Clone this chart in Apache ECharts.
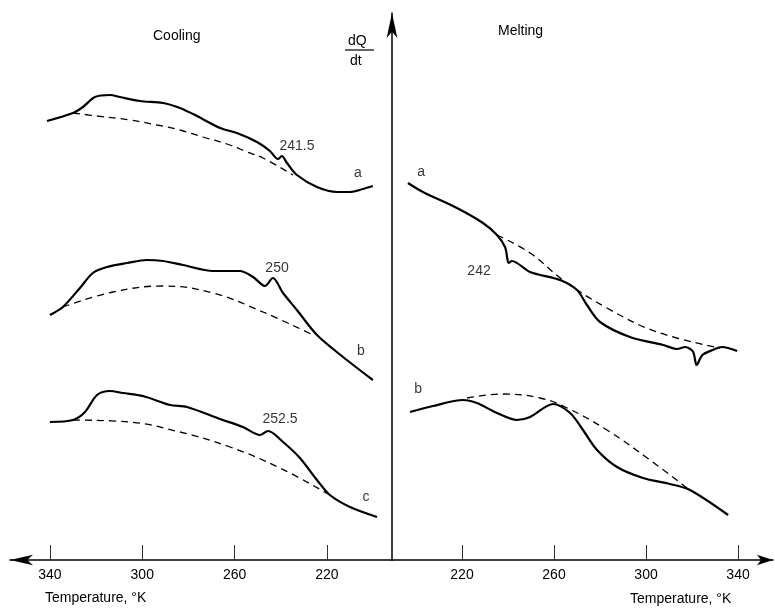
<!DOCTYPE html>
<html>
<head>
<meta charset="utf-8">
<script src="https://cdn.jsdelivr.net/npm/echarts@6/dist/echarts.min.js"></script>
<style>html,body{margin:0;padding:0;background:#fff}#c{width:775px;height:609px}</style>
</head>
<body>
<div id="c"></div>
<script>
// Tick labels (temperature, K)
var tickValues = [220, 260, 300, 340];

// Cooling curves [T (K), dQ/dt (arb.)]
var coolA = [[341.3,87.8],[330.0,89.4],[325.7,90.6],[320.5,92.6],[314.0,93.0],[309.7,92.6],[301.0,91.8],[291.0,91.4],[283.7,90.4],[276.3,88.8],[266.3,86.4],[259.0,85.4],[250.3,83.6],[244.7,81.8],[241.2,80.2],[239.5,80.8],[237.3,79.4],[233.0,77.0],[224.3,74.6],[215.6,73.6],[210.0,73.6],[204.4,74.2],[200.1,74.8]];
var coolABase = [[330.0,89.4],[319.6,88.8],[305.3,88.0],[293.6,87.0],[283.7,86.0],[273.7,84.6],[262.0,83.0],[254.6,81.6],[247.7,80.4],[234.7,77.0]];
var coolB = [[340.0,49.0],[334.4,50.6],[327.0,54.4],[321.4,57.4],[315.3,58.6],[306.6,59.4],[298.0,60.0],[291.0,59.8],[282.4,59.0],[269.4,57.8],[257.7,57.8],[252.0,56.6],[246.8,54.8],[243.4,56.4],[239.0,53.4],[233.0,50.0],[224.3,45.0],[213.0,40.6],[200.1,36.0]];
var coolBBase = [[334.4,50.6],[312.7,53.6],[291.0,54.8],[269.4,53.4],[247.7,49.6],[226.0,45.0]];
var coolC = [[340.0,27.6],[330.0,28.0],[324.8,29.6],[319.6,33.0],[314.0,33.8],[308.4,33.4],[299.7,32.8],[288.0,31.0],[280.6,30.6],[266.3,28.2],[256.4,26.6],[249.0,25.0],[245.5,25.8],[239.0,23.6],[231.7,20.4],[224.3,16.0],[218.7,13.0],[210.0,10.6],[198.3,8.6]];
var coolCBase = [[330.0,28.0],[305.3,27.6],[283.7,25.6],[262.0,22.6],[240.3,18.4],[218.7,13.0]];

// Melting curves
var meltA = [[196.5,75.4],[203.0,73.6],[217.8,70.4],[229.1,67.4],[235.2,65.0],[238.7,62.6],[239.8,60.0],[240.2,59.4],[241.7,59.8],[249.6,57.6],[262.6,56.0],[270.0,54.0],[274.3,51.0],[280.0,47.6],[293.0,44.6],[307.4,43.0],[313.5,42.2],[317.0,42.6],[320.4,41.7],[322.0,39.0],[324.5,41.0],[329.0,42.0],[333.0,42.6],[339.6,41.8]];
var meltABase = [[235.2,65.0],[249.6,61.4],[263.9,56.0],[283.0,50.4],[304.8,45.6],[332.2,42.4]];
var meltB = [[197.4,29.6],[207.4,30.8],[220.4,32.0],[226.5,31.4],[235.2,29.4],[243.9,28.0],[249.6,28.6],[259.6,31.2],[267.0,29.4],[272.6,26.0],[278.7,22.0],[287.4,18.6],[298.7,16.4],[310.4,15.2],[319.1,14.0],[335.7,9.0]];
var meltBBase = [[222.2,32.4],[237.8,33.2],[253.9,32.4],[265.7,30.4],[283.0,26.0],[301.7,20.0],[317.8,14.4]];

// Annotations
var coolLabels = [['241.5',[233.0,82.8]],['a',[206.6,77.4]],['250',[241.6,58.4]],['b',[205.3,41.8]],['252.5',[240.3,28.2]],['c',[203.1,12.6]]];
var meltLabels = [['a',[202.2,77.6]],['242',[227.4,57.8]],['b',[200.9,34.2]]];

var FONT = 'Liberation Sans';
var INK = '#000';

function solid(data, idx) {
  return {type:'line', xAxisIndex:idx, yAxisIndex:idx, data:data, smooth:0.3, symbol:'none',
    lineStyle:{color:INK, width:2.2}, z:3};
}
function dashed(data, idx) {
  return {type:'line', xAxisIndex:idx, yAxisIndex:idx, data:data, smooth:0.4, symbol:'none',
    lineStyle:{color:INK, width:1.3, type:[7,5]}, z:2};
}
function labels(list, idx) {
  return {type:'scatter', xAxisIndex:idx, yAxisIndex:idx, symbolSize:0,
    data:list.map(function(l){return {name:l[0], value:l[1]};}),
    label:{show:true, position:'inside', formatter:'{b}', color:INK, fontSize:14, fontFamily:FONT}, z:4};
}

var yMax = 109.4;
var chart = echarts.init(document.getElementById('c'), null, {renderer:'canvas'});
chart.setOption({
  animation:false,
  backgroundColor:'#fff',
  grid:[
    {left:10, right:383, top:13, bottom:49},
    {left:392, right:2, top:13, bottom:49}
  ],
  xAxis:[
    {type:'value', gridIndex:0, inverse:true, min:191.8, max:357.3,
     axisLine:{show:true, lineStyle:{color:INK, width:1.5}, symbol:['arrow','none'], symbolSize:[8,23]},
     axisTick:{show:true, inside:true, length:15, customValues:tickValues, lineStyle:{color:'#333', width:1}},
     axisLabel:{show:true, customValues:tickValues, margin:8, color:INK, fontSize:14, fontFamily:FONT},
     splitLine:{show:false}},
    {type:'value', gridIndex:1, min:189.57, max:355.2,
     axisLine:{show:true, lineStyle:{color:INK, width:1.5}, symbol:['none','arrow'], symbolSize:[8,16]},
     axisTick:{show:true, inside:true, length:15, customValues:tickValues, lineStyle:{color:'#333', width:1}},
     axisLabel:{show:true, customValues:tickValues, margin:8, color:INK, fontSize:14, fontFamily:FONT},
     splitLine:{show:false}}
  ],
  yAxis:[
    {type:'value', gridIndex:0, min:0, max:yMax, show:false},
    {type:'value', gridIndex:1, min:0, max:yMax, position:'left',
     axisLine:{show:true, lineStyle:{color:INK, width:1.5}, symbol:['none','arrow'], symbolSize:[8,25]},
     axisTick:{show:false}, axisLabel:{show:false}, splitLine:{show:false}}
  ],
  graphic:[
    {type:'text', left:153, top:29, style:{text:'Cooling', fontSize:14, fontFamily:FONT, fill:INK}},
    {type:'text', left:498, top:24, style:{text:'Melting', fontSize:14, fontFamily:FONT, fill:INK}},
    {type:'text', left:348, top:34, style:{text:'dQ', fontSize:14, fontFamily:FONT, fill:INK}},
    {type:'line', shape:{x1:345, y1:50, x2:374, y2:50}, style:{stroke:INK, lineWidth:1.2}},
    {type:'text', left:350, top:54, style:{text:'dt', fontSize:14, fontFamily:FONT, fill:INK}},
    {type:'text', left:45, top:591, style:{text:'Temperature, \u00B0K', fontSize:14, fontFamily:FONT, fill:INK}},
    {type:'text', left:630, top:592, style:{text:'Temperature, \u00B0K', fontSize:14, fontFamily:FONT, fill:INK}}
  ],
  series:[
    solid(coolA,0), dashed(coolABase,0),
    solid(coolB,0), dashed(coolBBase,0),
    solid(coolC,0), dashed(coolCBase,0),
    solid(meltA,1), dashed(meltABase,1),
    solid(meltB,1), dashed(meltBBase,1),
    labels(coolLabels,0), labels(meltLabels,1)
  ]
});
</script>
</body>
</html>
